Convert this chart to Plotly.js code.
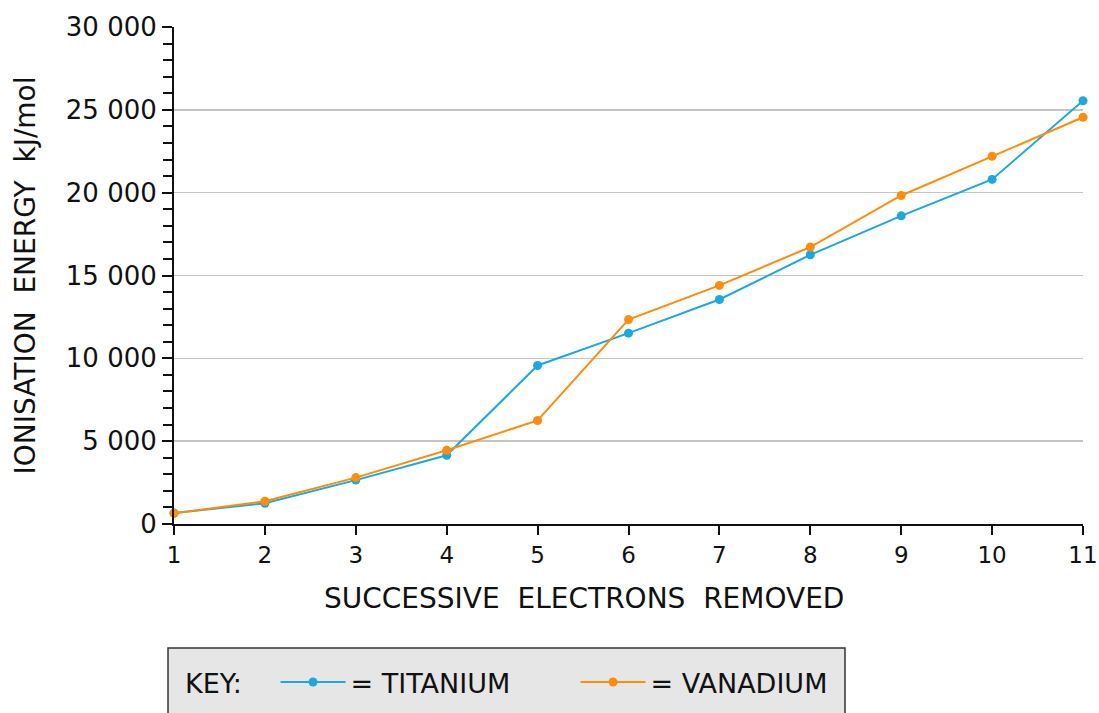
<!DOCTYPE html>
<html>
<head>
<meta charset="utf-8">
<script src="https://cdn.plot.ly/plotly-3.0.1.min.js"></script>
<style>html,body{margin:0;padding:0;background:#fff;}#chart{width:1099px;height:713px;}</style>
</head>
<body>
<div id="chart"></div>
<script>
const electrons = [1, 2, 3, 4, 5, 6, 7, 8, 9, 10, 11];
const titanium = [660, 1250, 2650, 4150, 9570, 11520, 13550, 16250, 18600, 20800, 25550];
const vanadium = [650, 1370, 2800, 4450, 6250, 12340, 14400, 16720, 19830, 22200, 24550];
const yTickVals = [0, 5000, 10000, 15000, 20000, 25000, 30000];
const yTickText = ['0', '5 000', '10 000', '15 000', '20 000', '25 000', '30 000'];
const xTickVals = [1, 2, 3, 4, 5, 6, 7, 8, 9, 10, 11];

const FONT = 'DejaVu Sans, Verdana, sans-serif';
const TI = '#1ba8e0';
const V = '#ff8c0a';

const traces = [
  {x: electrons, y: titanium, name: '= TITANIUM', mode: 'lines+markers', type: 'scatter',
   line: {color: TI, width: 2}, marker: {color: TI, size: 9}, cliponaxis: false},
  {x: electrons, y: vanadium, name: '= VANADIUM', mode: 'lines+markers', type: 'scatter',
   line: {color: V, width: 2}, marker: {color: V, size: 9}, cliponaxis: false}
];

const L = 174, R = 1083, T = 27, B = 524;
const plotW = R - L, plotH = B - T;
const px = v => (v - L) / plotW;
const py = v => (B - v) / plotH;

const layout = {
  width: 1099, height: 713,
  margin: {l: L, r: 1099 - R, t: T, b: 713 - B, autoexpand: false},
  paper_bgcolor: '#fff', plot_bgcolor: '#fff',
  font: {family: FONT, color: '#111'},
  showlegend: true,
  xaxis: {
    range: [1, 11], tickvals: xTickVals, ticks: 'outside', ticklen: 9, tickwidth: 2, tickcolor: '#111',
    showline: true, linecolor: '#111', linewidth: 2, showgrid: false, zeroline: false,
    ticklabeloverflow: 'allow',
    tickfont: {size: 23, family: FONT, color: '#111'}, fixedrange: true
  },
  yaxis: {
    range: [0, 30000], tickvals: yTickVals, ticktext: yTickText, ticks: 'outside', ticklen: 10, tickwidth: 2, tickcolor: '#111',
    showline: true, linecolor: '#111', linewidth: 2, showgrid: true, gridcolor: '#c4c4c4', gridwidth: 1.5, zeroline: false,
    minor: {dtick: 1000, tick0: 0, ticks: 'outside', ticklen: 9, tickwidth: 2, tickcolor: '#111', showgrid: false},
    ticklabeloverflow: 'allow',
    tickfont: {size: 26, family: FONT, color: '#111'},
    title: {text: 'IONISATION\u00a0\u00a0ENERGY\u00a0\u00a0kJ/mol', font: {size: 28, family: FONT, color: '#111'}, standoff: 22},
    fixedrange: true
  },
  annotations: [{
    xref: 'paper', yref: 'paper', x: px(584), y: py(598), xanchor: 'center', yanchor: 'middle', showarrow: false,
    text: 'SUCCESSIVE\u00a0\u00a0ELECTRONS\u00a0\u00a0REMOVED', font: {size: 28, family: FONT, color: '#111'}
  }],
  shapes: [{
    type: 'rect', xref: 'paper', yref: 'paper', x0: px(168), x1: px(845), y0: py(648), y1: py(730),
    fillcolor: '#e6e6e6', line: {color: '#333', width: 1.5}, layer: 'below'
  }],
  legend: {
    orientation: 'h', x: px(183), y: py(658), xanchor: 'left', yanchor: 'top',
    bgcolor: 'rgba(0,0,0,0)', borderwidth: 0,
    title: {text: 'KEY:\u00a0\u00a0\u00a0', font: {size: 27, family: FONT, color: '#111'}, side: 'left'},
    font: {size: 27, family: FONT, color: '#111'},
    itemwidth: 65, entrywidth: 220, traceorder: 'normal'
  }
};

Plotly.newPlot('chart', traces, layout, {displayModeBar: false, staticPlot: true});
</script>
</body>
</html>
